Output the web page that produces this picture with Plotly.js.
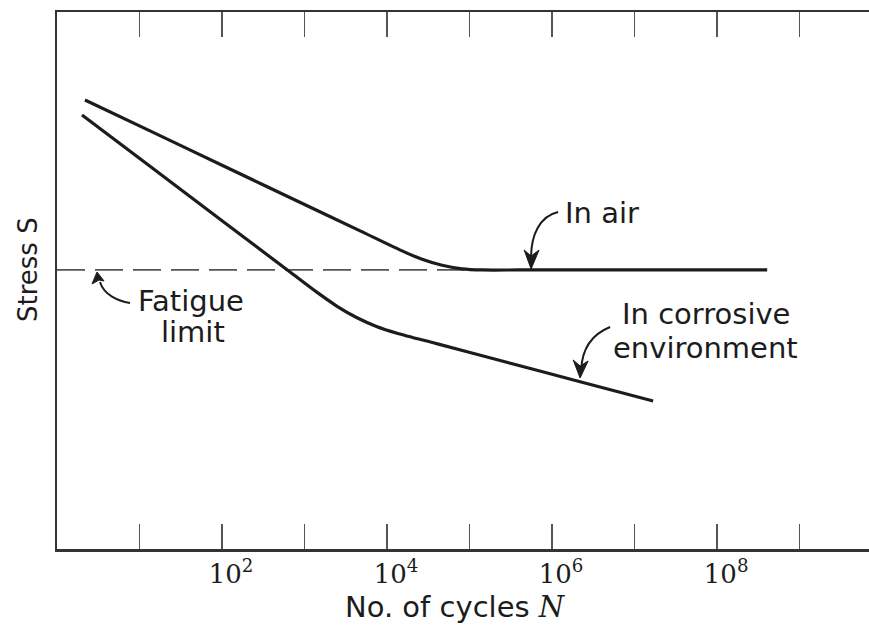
<!DOCTYPE html>
<html>
<head>
<meta charset="utf-8">
<script src="https://cdn.plot.ly/plotly-3.0.1.min.js"></script>
<style>html,body{margin:0;padding:0;background:#fff;}#chart{width:869px;height:629px;}</style>
</head>
<body>
<div id="chart"></div>
<script>
// Values (x as log10 of N, y in arbitrary stress units 0-100)
const airLogN  = [0.339, 1.127, 2.0, 3.006, 3.673, 4.182, 4.424, 4.667, 4.909, 5.152, 5.6, 6.5, 7.5, 8.606];
const airS     = [83.61, 77.86, 71.47, 64.12, 59.24, 55.51, 53.97, 52.85, 52.18, 51.96, 51.96, 51.96, 51.96, 51.96];
const corrLogN = [0.303, 1.127, 2.0, 2.824, 3.152, 3.394, 3.636, 3.879, 4.121, 4.6, 5.370, 6.339, 7.224];
const corrS    = [80.82, 71.27, 61.14, 51.58, 47.78, 45.20, 43.07, 41.40, 40.19, 38.24, 35.10, 31.15, 27.56];
const fatigueLogN = [0, 5.0];
const fatigueS    = [51.96, 51.96];
const labelExponents = [2, 4, 6, 8];
const tickLabels = ["10<sup>2</sup>", "10<sup>4</sup>", "10<sup>6</sup>", "10<sup>8</sup>"];
const minorExponents = [1, 3, 5, 7, 9];

const toN = a => a.map(v => Math.pow(10, v));
const P = (lx, y) => Math.pow(10, lx).toFixed(4) + "," + y;

const ink = "#1c1c1c";
const sans = "DejaVu Sans, sans-serif";

const traces = [
  {x: toN(fatigueLogN), y: fatigueS, mode: "lines", line: {color: "#555", width: 1.8, dash: "28px,10px"}, hoverinfo: "skip"},
  {x: toN(airLogN), y: airS, mode: "lines", line: {color: ink, width: 3.2, shape: "spline", smoothing: 0.8}, name: "In air"},
  {x: toN(corrLogN), y: corrS, mode: "lines", line: {color: ink, width: 3.2, shape: "spline", smoothing: 0.8}, name: "In corrosive environment"}
];

function arrow(c, head) {
  const body = "M" + P(c[0][0], c[0][1]) + " C" + P(c[1][0], c[1][1]) + " " + P(c[2][0], c[2][1]) + " " + P(c[3][0], c[3][1]);
  const hd = "M" + P(head[0][0], head[0][1]) + " L" + P(head[1][0], head[1][1]) + " L" + P(head[2][0], head[2][1]) + " L" + P(head[3][0], head[3][1]) + " Z";
  return [
    {type: "path", xref: "x", yref: "y", path: body, line: {color: ink, width: 2}},
    {type: "path", xref: "x", yref: "y", path: hd, line: {color: ink, width: 1}, fillcolor: ink}
  ];
}

const shapes = [].concat(
  arrow([[6.073, 62.76], [5.855, 62.01], [5.733, 58.57], [5.745, 53.45]],
        [[5.745, 52.14], [5.661, 55.68], [5.745, 54.56], [5.842, 55.68]]),
  arrow([[6.703, 41.34], [6.521, 40.22], [6.364, 37.99], [6.352, 33.33]],
        [[6.339, 31.84], [6.255, 35.20], [6.339, 34.08], [6.436, 35.01]]),
  arrow([[0.885, 45.81], [0.739, 46.18], [0.570, 47.30], [0.521, 49.72]],
        [[0.485, 51.58], [0.424, 49.35], [0.509, 50.09], [0.570, 49.91]])
);

const annFont = {family: sans, size: 29, color: ink};
const annotations = [
  {x: 6.133, y: 62.57, text: "In air", xanchor: "left", yanchor: "middle", showarrow: false, font: annFont},
  {x: 7.867, y: 43.76, text: "In corrosive", xanchor: "center", yanchor: "middle", showarrow: false, font: annFont},
  {x: 7.855, y: 37.43, text: "environment", xanchor: "center", yanchor: "middle", showarrow: false, font: annFont},
  {x: 1.618, y: 46.18, text: "Fatigue", xanchor: "center", yanchor: "middle", showarrow: false, font: annFont},
  {x: 1.648, y: 40.41, text: "limit", xanchor: "center", yanchor: "middle", showarrow: false, font: annFont},
  // axis titles
  {xref: "paper", yref: "paper", x: 0.491, y: -0.108, xanchor: "center", yanchor: "middle", showarrow: false, borderpad: 0,
   text: "No. of cycles <i style='font-family:DejaVu Serif'>N</i>", font: {family: sans, size: 29, color: ink}},
  {xref: "paper", yref: "paper", x: -0.0357, y: 0.5196, xanchor: "center", yanchor: "middle", showarrow: false, textangle: -90,
   text: "Stress S", font: {family: sans, size: 26, color: ink}}
];

const layout = {
  width: 869, height: 629,
  margin: {l: 57, r: 0, t: 12, b: 80},
  paper_bgcolor: "#fff", plot_bgcolor: "#fff",
  showlegend: false,
  xaxis: {
    type: "log", range: [0, 9.84],
    showline: true, linecolor: "#333", linewidth: 2.5, mirror: "ticks",
    ticks: "inside", ticklen: 25, tickwidth: 1.5, tickcolor: "#555",
    tickmode: "array", tickvals: toN(labelExponents), ticktext: tickLabels,
    minor: {tickmode: "array", tickvals: toN(minorExponents), ticks: "inside", ticklen: 25, tickwidth: 1.5, tickcolor: "#555", showgrid: false},
    tickfont: {family: "DejaVu Serif, serif", size: 26, color: ink},
    ticklabelshift: 9,
    showgrid: false, zeroline: false
  },
  yaxis: {
    range: [0, 100],
    showline: true, linecolor: "#333", linewidth: 2.5, mirror: false,
    ticks: "", showticklabels: false, showgrid: false, zeroline: false
  },
  shapes: shapes,
  annotations: annotations
};

Plotly.newPlot("chart", traces, layout, {displayModeBar: false, staticPlot: true});
</script>
</body>
</html>
